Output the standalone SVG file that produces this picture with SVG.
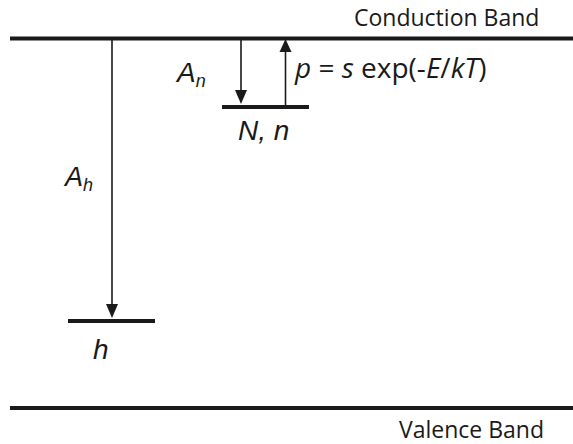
<svg xmlns="http://www.w3.org/2000/svg" width="573" height="444" viewBox="0 0 573 444">
<style>
.band{stroke:#1a1a1a;stroke-width:4;fill:none}
.lvl{stroke:#1a1a1a;stroke-width:4;fill:none}
.arr{stroke:#1a1a1a;stroke-width:1.6;fill:none}
.head{fill:#1a1a1a}
.t{font-family:"Open Sans","Liberation Sans",sans-serif;fill:#1a1a1a}
.m{font-family:"Liberation Sans",Arial,sans-serif;font-style:italic;fill:#1a1a1a}
.i{font-style:italic}
</style>
<g id="conduction-band">
<line class="band" x1="10" y1="38.5" x2="573" y2="38.5"/>
<text class="t" x="354" y="26" font-size="23">Conduction Band</text>
</g>
<g id="valence-band">
<line class="band" x1="10" y1="408" x2="573" y2="408"/>
<text class="t" x="399" y="438" font-size="23">Valence Band</text>
</g>
<g id="level-N">
<line class="lvl" x1="222" y1="107" x2="309" y2="107"/>
<text class="m" x="238" y="140" font-size="28">N, n</text>
</g>
<g id="level-h">
<line class="lvl" x1="68" y1="321" x2="155" y2="321"/>
<text class="m" x="93" y="359" font-size="28">h</text>
</g>
<g id="connectors">
<line class="arr" x1="112" y1="40" x2="112" y2="304"/>
<path class="head" d="M106,304 L118,304 L112,318 Z"/>
<line class="arr" x1="241" y1="40" x2="241" y2="90"/>
<path class="head" d="M235,90 L247,90 L241,104 Z"/>
<line class="arr" x1="285.5" y1="105" x2="285.5" y2="52"/>
<path class="head" d="M279.5,52 L291.5,52 L285.5,39 Z"/>
</g>
<g id="labels">
<text class="m" x="177" y="82" font-size="28">A<tspan font-size="18" dy="5">n</tspan></text>
<text class="m" x="65" y="186" font-size="27">A<tspan font-size="18" dy="5">h</tspan></text>
<text class="t" x="295" y="78" font-size="28"><tspan class="i">p</tspan> = <tspan class="i">s</tspan> exp(-<tspan class="i">E</tspan>/<tspan class="i">kT</tspan>)</text>
</g>
</svg>
